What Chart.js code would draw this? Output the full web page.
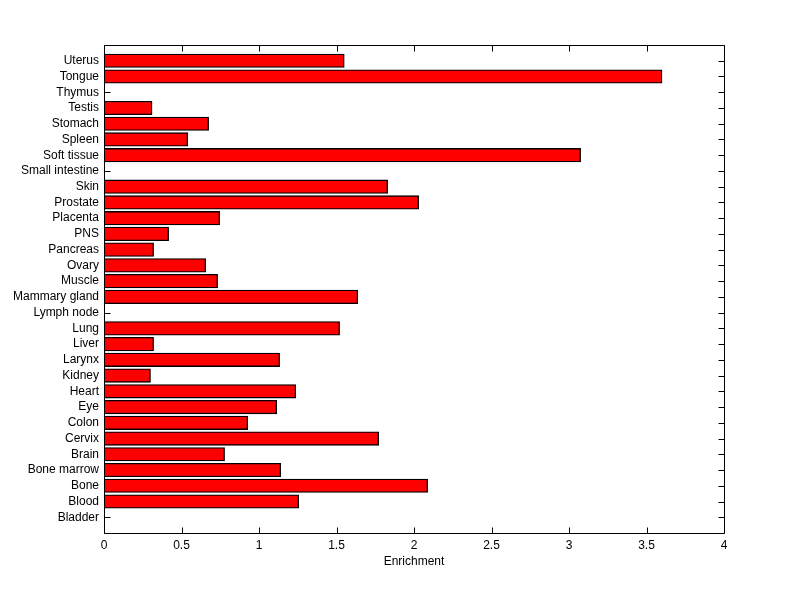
<!DOCTYPE html>
<html>
<head>
<meta charset="utf-8">
<script src="https://cdn.jsdelivr.net/npm/chart.js@4/dist/chart.umd.min.js"></script>
<style>
  html, body { margin: 0; padding: 0; background: #ffffff; }
  canvas { display: block; }
</style>
</head>
<body>
<canvas id="c" width="800" height="599"></canvas>
<script>
// Categories listed bottom-to-top (index 1 = bottom row)
const categories = ["Bladder", "Blood", "Bone", "Bone marrow", "Brain", "Cervix", "Colon", "Eye", "Heart", "Kidney",
  "Larynx", "Liver", "Lung", "Lymph node", "Mammary gland", "Muscle", "Ovary", "Pancreas", "PNS", "Placenta",
  "Prostate", "Skin", "Small intestine", "Soft tissue", "Spleen", "Stomach", "Testis", "Thymus", "Tongue", "Uterus"];
const enrichment = [0, 1.256, 2.088, 1.14, 0.778, 1.772, 0.927, 1.114, 1.237, 0.30,
  1.133, 0.32, 1.52, 0, 1.637, 0.733, 0.656, 0.32, 0.417, 0.746,
  2.03, 1.83, 0, 3.075, 0.54, 0.675, 0.31, 0, 3.60, 1.55];
const xTicks = [0, 0.5, 1, 1.5, 2, 2.5, 3, 3.5, 4];
const xTitle = "Enrichment";

const FONT = { family: "'Liberation Sans', Arial, Helvetica, sans-serif", size: 12 };

const points = categories.map((c, i) => ({ x: enrichment[i], y: i + 1 }));

const axesPlugin = {
  id: 'matlabAxes',
  beforeDraw(chart) {
    const ctx = chart.ctx;
    ctx.save();
    ctx.fillStyle = '#ffffff';
    ctx.fillRect(0, 0, chart.width, chart.height);
    ctx.restore();
  },
  beforeDatasetsDraw(chart) {
    const { ctx, chartArea: a, scales } = chart;
    const xs = scales.x, ys = scales.y;
    const L = 6;
    ctx.save();
    ctx.strokeStyle = '#000000';
    ctx.lineWidth = 1;
    ctx.beginPath();
    const l = Math.round(a.left) + 0.5, r = Math.round(a.right) + 0.5;
    const t = Math.round(a.top) + 0.5, b = Math.round(a.bottom) + 0.5;
    ctx.rect(l, t, r - l, b - t);
    xTicks.forEach(v => {
      const px = Math.round(xs.getPixelForValue(v)) + 0.5;
      ctx.moveTo(px, t); ctx.lineTo(px, t + L);
      ctx.moveTo(px, b); ctx.lineTo(px, b - L);
    });
    categories.forEach((c, i) => {
      const py = Math.round(ys.getPixelForValue(i + 1)) + 0.5;
      ctx.moveTo(l, py); ctx.lineTo(l + L, py);
      ctx.moveTo(r, py); ctx.lineTo(r - L, py);
    });
    ctx.stroke();
    ctx.restore();
  }
};

new Chart(document.getElementById('c'), {
  type: 'bar',
  data: {
    datasets: [{
      data: points,
      backgroundColor: '#ff0000',
      borderColor: '#000000',
      borderWidth: 1.3,
      borderSkipped: false,
      barThickness: 13.5
    }]
  },
  options: {
    indexAxis: 'y',
    responsive: false,
    animation: false,
    layout: { padding: { left: 0, top: 45, right: 76, bottom: 30 } },
    plugins: { legend: { display: false }, tooltip: { enabled: false } },
    scales: {
      x: {
        type: 'linear',
        min: 0, max: 4,
        grid: { display: false, drawTicks: false },
        border: { display: false },
        afterBuildTicks: (s) => { s.ticks = xTicks.map(v => ({ value: v })); },
        ticks: { color: '#000', font: FONT, padding: 5, maxRotation: 0,
          callback: (v) => String(v) },
        title: { display: true, text: xTitle, color: '#000', font: FONT, padding: 0 },
        afterFit: (s) => { s.height = 36; }
      },
      y: {
        type: 'linear',
        min: 0, max: 31,
        offset: false,
        grid: { display: false, drawTicks: false, offset: false },
        border: { display: false },
        afterBuildTicks: (s) => { s.ticks = categories.map((c, i) => ({ value: i + 1 })); },
        ticks: { color: '#000', font: FONT, padding: 5, autoSkip: false,
          callback: (v) => categories[v - 1] || '' },
        afterFit: (s) => { s.width = 104; }
      }
    }
  },
  plugins: [axesPlugin]
});
</script>
</body>
</html>
